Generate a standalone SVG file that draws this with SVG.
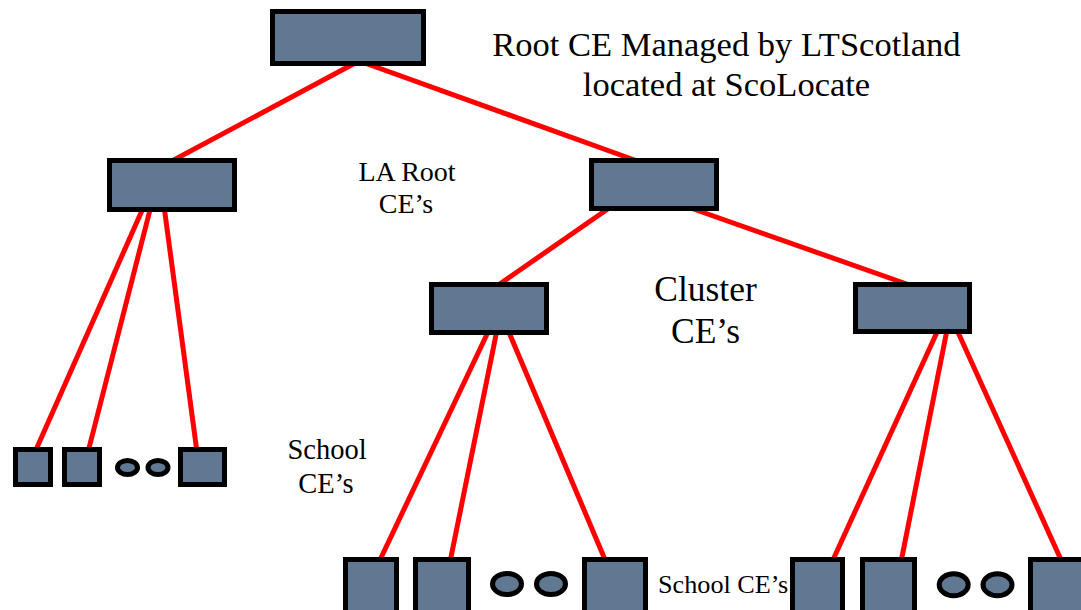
<svg xmlns="http://www.w3.org/2000/svg" width="1081" height="610" viewBox="0 0 1081 610">
<style>
.node{fill:#617892;stroke:#000;stroke-width:5}
.dot{fill:#617892;stroke:#000;stroke-width:5}
.conn line{stroke:#ff0000;stroke-width:5}
</style>
<rect width="1081" height="610" fill="#fff"/>
<g id="connectors" class="conn">
<line x1="357" y1="62" x2="170" y2="162"/>
<line x1="362" y1="62" x2="640" y2="162"/>
<line x1="612" y1="206" x2="494" y2="288"/>
<line x1="685" y1="206" x2="918" y2="288"/>
<line x1="144" y1="206" x2="35" y2="452"/>
<line x1="151" y1="206" x2="88" y2="452"/>
<line x1="164" y1="206" x2="197" y2="452"/>
<line x1="489" y1="330" x2="379" y2="562"/>
<line x1="497" y1="330" x2="450" y2="562"/>
<line x1="508" y1="330" x2="606" y2="562"/>
<line x1="938" y1="330" x2="832" y2="562"/>
<line x1="947" y1="330" x2="901" y2="562"/>
<line x1="957" y1="330" x2="1062" y2="562"/>
</g>
<g id="root-ce"><rect class="node" x="272.5" y="11.5" width="151" height="52"/></g>
<g id="la-root-left"><rect class="node" x="109.5" y="160.5" width="125" height="49"/></g>
<g id="la-root-right"><rect class="node" x="591.5" y="160.5" width="125" height="48"/></g>
<g id="cluster-left"><rect class="node" x="431.5" y="284.5" width="115" height="48"/></g>
<g id="cluster-right"><rect class="node" x="855.5" y="284.5" width="114" height="47"/></g>
<g id="school-left-1"><rect class="node" x="15.5" y="449.5" width="35" height="35"/></g>
<g id="school-left-2"><rect class="node" x="64.5" y="449.5" width="35" height="35"/></g>
<g id="school-left-dots"><ellipse class="dot" cx="127.5" cy="467.5" rx="10" ry="7"/><ellipse class="dot" cx="158" cy="467.5" rx="10" ry="7"/></g>
<g id="school-left-3"><rect class="node" x="180.5" y="449.5" width="44" height="35"/></g>
<g id="school-mid-1"><rect class="node" x="345.5" y="559.5" width="51" height="60"/></g>
<g id="school-mid-2"><rect class="node" x="415.5" y="559.5" width="53" height="60"/></g>
<g id="school-mid-dots"><ellipse class="dot" cx="507" cy="584" rx="14.5" ry="10.5"/><ellipse class="dot" cx="551" cy="584" rx="14.5" ry="10.5"/></g>
<g id="school-mid-3"><rect class="node" x="584.5" y="559.5" width="61" height="60"/></g>
<g id="school-right-1"><rect class="node" x="792.5" y="559.5" width="50" height="60"/></g>
<g id="school-right-2"><rect class="node" x="862.5" y="559.5" width="52" height="60"/></g>
<g id="school-right-dots"><ellipse class="dot" cx="953.7" cy="584.7" rx="14.5" ry="11"/><ellipse class="dot" cx="997.5" cy="584.7" rx="14.5" ry="11"/></g>
<g id="school-right-3"><rect class="node" x="1030.5" y="559.5" width="60" height="60"/></g>
<g id="labels" font-family="'Liberation Serif', 'DejaVu Serif', serif" fill="#000">
<text x="726.5" y="56" font-size="34.5" text-anchor="middle">Root CE Managed by LTScotland</text>
<text x="726.5" y="96" font-size="34.5" text-anchor="middle">located at ScoLocate</text>
<text x="407" y="180.5" font-size="28" text-anchor="middle">LA Root</text>
<text x="406" y="213" font-size="28" text-anchor="middle">CE’s</text>
<text x="705.5" y="301" font-size="35.5" text-anchor="middle">Cluster</text>
<text x="705.5" y="343" font-size="35.5" text-anchor="middle">CE’s</text>
<text x="327" y="459" font-size="28.5" text-anchor="middle">School</text>
<text x="326" y="493" font-size="28.5" text-anchor="middle">CE’s</text>
<text x="658" y="593" font-size="26.2">School CE’s</text>
</g>
</svg>
